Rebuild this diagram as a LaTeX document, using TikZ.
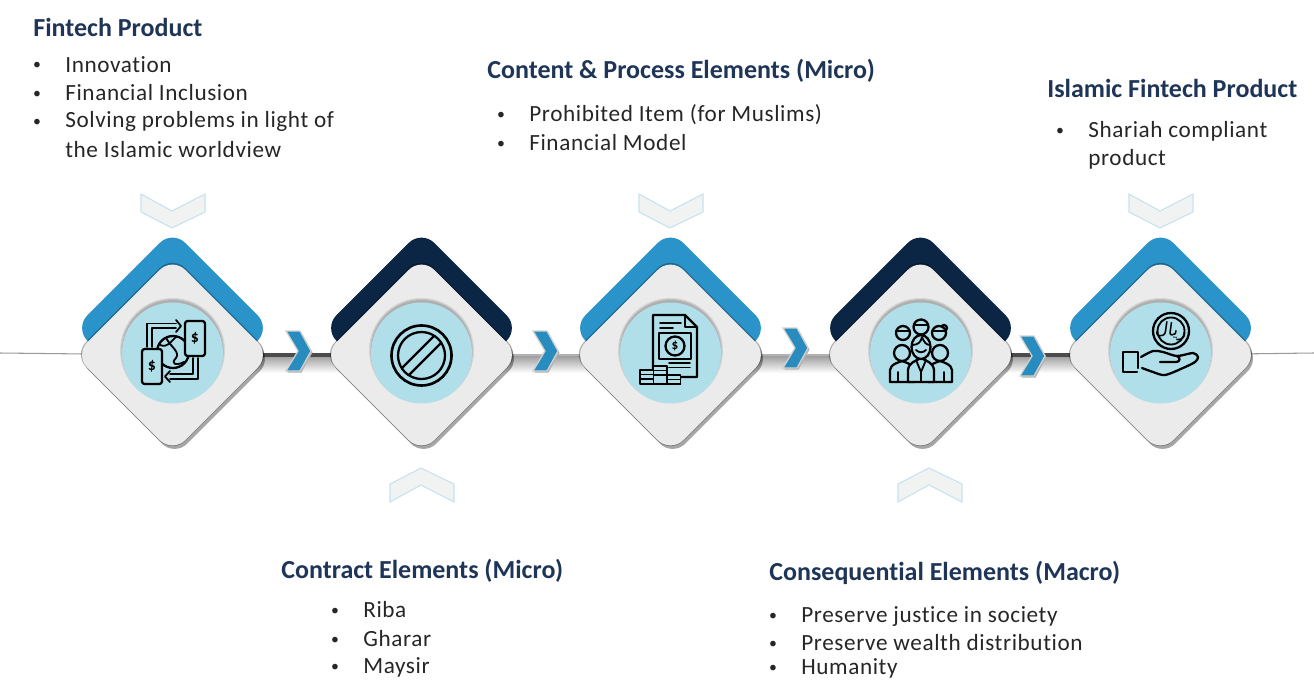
\documentclass[tikz,border=0pt]{standalone}
\usepackage{fontspec}
\setmainfont[Ligatures=NoCommon]{Carlito}
\newfontfamily\arabicfont[Script=Arabic]{DejaVu Sans}
\TeXXeTstate=1
\usepackage{tikz}
\usetikzlibrary{shapes.geometric, shadows, backgrounds, calc}
\definecolor{skyblue}{HTML}{2A93C9}
\definecolor{navyblue}{HTML}{0B2545}
\definecolor{titleblue}{HTML}{1F3558}
\definecolor{facegrey}{HTML}{EBEBEB}
\definecolor{iconbg}{HTML}{B0DFEA}
\definecolor{palefill}{HTML}{F1F2F2}
\definecolor{paleedge}{HTML}{C6E2EE}
\tikzset{backdia/.style={shape=diamond, aspect=1, inner sep=0pt, minimum size=3.92cm, rounded corners=0.36cm}}
\tikzset{facedia/.style={backdia, fill=facegrey, drop shadow={shadow xshift=1.2pt, shadow yshift=-2pt, opacity=.35, fill=black}}}
\tikzset{edgedia/.style={backdia, minimum size=3.97cm, fill=black, opacity=.3}}
\tikzset{iconcirc/.style={shape=circle, inner sep=0pt, minimum size=2.02cm, fill=iconbg}}
\tikzset{icon/.style={draw=black, line width=1.3pt, line join=round, line cap=round}}
\tikzset{thinicon/.style={icon, line width=1.05pt}}
\tikzset{titletxt/.style={anchor=base west, inner sep=0pt, yshift=-0.03cm, text=titleblue, font=\fontsize{14.8}{16}\selectfont\bfseries}}
\tikzset{itemtxt/.style={anchor=base west, inner sep=0pt, yshift=-0.02cm, text=black!85, font=\addfontfeature{LetterSpace=2.6}\fontsize{13.2}{15}\selectfont}}
\tikzset{itemdot/.style={anchor=base, inner sep=0pt, text=black!85, font=\fontsize{9}{10}\selectfont}}
\tikzset{darklink/.style={draw=black!70, line width=2.6pt}}
\tikzset{palelink/.style={draw=black!30, line width=.6pt}}
\tikzset{outerlink/.style={draw=black!40, line width=.6pt}}
\tikzset{nextchev/.pic={
    \fill[black!30] (-10.5,-18.5) -- (3.5,-18.5) -- (14.5,1.5) -- (3.5,21.5) -- (-10.5,21.5) -- (1.5,1.5) -- cycle;
    \filldraw[fill=skyblue!95!black, draw=black!18, line width=.7pt] (-12,-20) -- (2,-20) -- (13,0) -- (2,20) -- (-12,20) -- (0,0) -- cycle;
}}
\tikzset{palechev/.pic={
    \filldraw[fill=palefill, draw=paleedge, line width=.6pt] (-31,-17) -- (0,0) -- (33,-17) -- (33,1) -- (0,17) -- (-31,1) -- cycle;
}}
\newcommand{\listline}[4]{
    \node[itemtxt] (#1) at (#2,#3) {#4};
    \path (#1.base west) ++(-28,-2) node[itemdot] (#1dot) {\textbullet};
}
\begin{document}
\begin{tikzpicture}[x=0.02cm, y=-0.02cm]
    \useasboundingbox (0,0) rectangle (1314,679);
    % diamonds with their circles
    \foreach \name/\px/\col in {1/172.5/skyblue, 2/421.5/navyblue, 3/670.5/skyblue, 4/920.5/navyblue, 5/1160.5/skyblue} {
        \node[backdia, fill=\col] (b\name) at (\px,328) {};
        \node[edgedia] (g\name) at (\px,354.5) {};
        \node[facedia] (d\name) at (\px,355) {};
        \foreach \rad in {50.5,51.5,52.5} {
            \fill[black, opacity=.09] (\px,350.5) circle (\rad);
        }
        \node[iconcirc] (c\name) at (\px,353) {};
    }
    % links behind the diamonds
    \coordinate (lineL) at (0,353);
    \coordinate (lineR) at (1314,353);
    \begin{pgfonlayer}{background}
        \shade[top color=black!40, bottom color=white] (d1.center) rectangle ($(d2.center)+(0,18)$);
        \shade[top color=black!40, bottom color=white] (d2.center) rectangle ($(d3.center)+(0,18)$);
        \shade[top color=black!40, bottom color=white] (d3.center) rectangle ($(d4.center)+(0,18)$);
        \shade[top color=black!40, bottom color=white] (d4.center) rectangle ($(d5.center)+(0,18)$);
        \draw[outerlink] (lineL) -- (d1.center);
        \draw[darklink] (d1.center) -- (d2.center);
        \draw[palelink] (d2.center) -- (d3.center);
        \draw[palelink] (d3.center) -- (d4.center);
        \draw[darklink] (d4.center) -- (d5.center);
        \draw[outerlink] (d5.center) -- (lineR);
    \end{pgfonlayer}
    % chevrons
    \pic at (298,351) {nextchev};
    \pic at (545,351) {nextchev};
    \pic at (795,348) {nextchev};
    \pic at (1032,356) {nextchev};
    \pic at (172,211) {palechev};
    \pic at (670,211) {palechev};
    \pic at (1160,211) {palechev};
    \pic[yscale=-1] at (421,485) {palechev};
    \pic[yscale=-1] at (929,485) {palechev};
    % phones and globe
    \draw[icon] (173,352) circle (16);
    \draw[thinicon] (160,345) .. controls (168,348) and (170,342) .. (176,337);
    \draw[thinicon] (166,338) .. controls (172,348) and (180,352) .. (176,358) .. controls (170,364) and (176,366) .. (184,362);
    \draw[thinicon] (147,347) -- (147,323.5) -- (176,323.5);
    \draw[thinicon] (152,347) -- (152,328) -- (176,328);
    \draw[thinicon] (176,320) -- (181,326) -- (176,332);
    \draw[thinicon] (198,358) -- (198,379) -- (170,379);
    \draw[thinicon] (193,358) -- (193,374) -- (170,374);
    \draw[thinicon] (170,371) -- (165,376.5) -- (170,382);
    \filldraw[icon, fill=iconbg, rounded corners=1.5pt] (185,321) rectangle (205,356);
    \filldraw[icon, fill=iconbg, rounded corners=1.5pt] (142,349) rectangle (162,384);
    \node[inner sep=0pt, font=\fontsize{9}{9}\selectfont\bfseries] (s1) at (195,338.5) {\$};
    \node[inner sep=0pt, font=\fontsize{9}{9}\selectfont\bfseries] (s2) at (152,366.5) {\$};
    % prohibited sign
    \draw[icon, line width=1.5pt] (421.5,355.5) circle (30);
    \draw[icon] (421.5,355.5) circle (23.5);
    \begin{scope}
        \clip (421.5,355.5) circle (23.5);
        \draw[icon] (393,377) -- (443,327);
        \draw[icon] (400,384) -- (450,334);
    \end{scope}
    % document and coins
    \draw[icon] (653,315) -- (685,315) -- (697,327) -- (697,377) -- (653,377) -- cycle;
    \draw[thinicon] (685,315) -- (685,327) -- (697,327);
    \draw[thinicon] (660,323) -- (681,323);
    \draw[thinicon] (660,328) -- (673,328);
    \draw[icon] (659,333) rectangle (691,359);
    \draw[icon] (675,346) circle (9.5);
    \node[inner sep=0pt, font=\fontsize{7.5}{8}\selectfont\bfseries] (s3) at (675,346) {\$};
    \draw[thinicon] (669,363) -- (690,363);
    \draw[thinicon] (669,367.5) -- (690,367.5);
    \foreach \sx/\sy in {640/370, 653.5/366, 667/375} {
        \filldraw[thinicon, fill=iconbg] (\sx,\sy) rectangle (\sx+13.5,384);
        \draw[thinicon] (\sx,\sy+4.5) -- (\sx+13.5,\sy+4.5);
        \draw[thinicon] (\sx,\sy+9) -- (\sx+13.5,\sy+9);
    }
    % group of people
    \filldraw[icon, fill=iconbg] (944,328) circle (3);
    \filldraw[icon, fill=iconbg] (903,333) circle (7);
    \filldraw[icon, fill=iconbg] (939,333) circle (7);
    \filldraw[icon, fill=iconbg] (921,327) circle (7.5);
    \draw[thinicon] (896,331) -- (910,331);
    \draw[thinicon] (932,331) -- (946,331);
    \draw[thinicon] (914,325) -- (928,325);
    \filldraw[icon, fill=iconbg] (890,382) -- (890,370) .. controls (891,364) and (897,363) .. (902,361) .. controls (907,363) and (913,364) .. (914,370) -- (914,382) -- cycle;
    \filldraw[icon, fill=iconbg] (928,382) -- (928,370) .. controls (929,364) and (935,363) .. (940,361) .. controls (945,363) and (951,364) .. (952,370) -- (952,382) -- cycle;
    \filldraw[icon, fill=iconbg] (902,353) circle (8);
    \filldraw[icon, fill=iconbg] (940,353) circle (8);
    \draw[thinicon] (898,382) -- (898,372);
    \draw[thinicon] (944,382) -- (944,372);
    \filldraw[icon, fill=iconbg] (908,382) -- (908,370) .. controls (909,362) and (916,361) .. (921,358) .. controls (926,361) and (933,362) .. (934,370) -- (934,382) -- cycle;
    \filldraw[icon, fill=iconbg] (921,347) ellipse (9.5 and 12);
    \draw[thinicon] (912,345) .. controls (918,345) and (921,342) .. (922,337);
    \draw[thinicon] (922,337) .. controls (924,342) and (926,345) .. (930,345);
    \draw[thinicon] (916,350) .. controls (919,353) and (923,353) .. (926,350);
    \draw[thinicon] (916,360) -- (921,372) -- (926,360);
    \draw[thinicon] (921,372) -- (921,382);
    \draw[icon] (890,382) -- (952,382);
    % hand and coin
    \draw[icon] (1171,331) circle (18);
    \draw[thinicon] (1171,331) circle (13.5);
    \node[inner sep=0pt, rotate=-8, font=\arabicfont\fontsize{10}{10}\selectfont] (rial) at (1171,331) {\beginR ريال\endR};
    \draw[icon] (1137,372) -- (1123,372) -- (1123,352) -- (1138,352) -- (1138,368);
    \draw[icon] plot[smooth] coordinates {(1141,357) (1153,351) (1163,352) (1177,356) (1193,353) (1198,357) (1195,362) (1183,368) (1165,375) (1153,372) (1142,368)};
    \draw[icon] (1160,362) -- (1176,362) .. controls (1180,362) and (1181,358) .. (1177,356);
    % titles and lists
    \node[titletxt] (titleA) at (33,35) {Fintech Product};
    \listline{fa}{65}{71}{Innovation}
    \listline{fb}{65}{99}{Financial Inclusion}
    \listline{fc}{65}{127}{Solving problems in light of}
    \node[itemtxt] (fd) at (65,156) {the Islamic worldview};
    \node[titletxt] (titleB) at (281,577) {Contract Elements (Micro)};
    \listline{ca}{363}{616}{Riba}
    \listline{cb}{363}{645}{Gharar}
    \listline{cc}{363}{672}{Maysir}
    \node[titletxt] (titleC) at (487,77) {Content \& Process Elements (Micro)};
    \listline{pa}{529}{120}{Prohibited Item (for Muslims)}
    \listline{pb}{529}{149}{Financial Model}
    \node[titletxt] (titleD) at (769,579) {Consequential Elements (Macro)};
    \listline{ma}{801}{621}{Preserve justice in society}
    \listline{mb}{801}{649}{Preserve wealth distribution}
    \listline{mc}{801}{673}{Humanity}
    \node[titletxt] (titleE) at (1047,96) {Islamic Fintech Product};
    \listline{ia}{1088}{136}{Shariah compliant}
    \node[itemtxt] (ib) at (1088,164) {product};
\end{tikzpicture}
\end{document}
